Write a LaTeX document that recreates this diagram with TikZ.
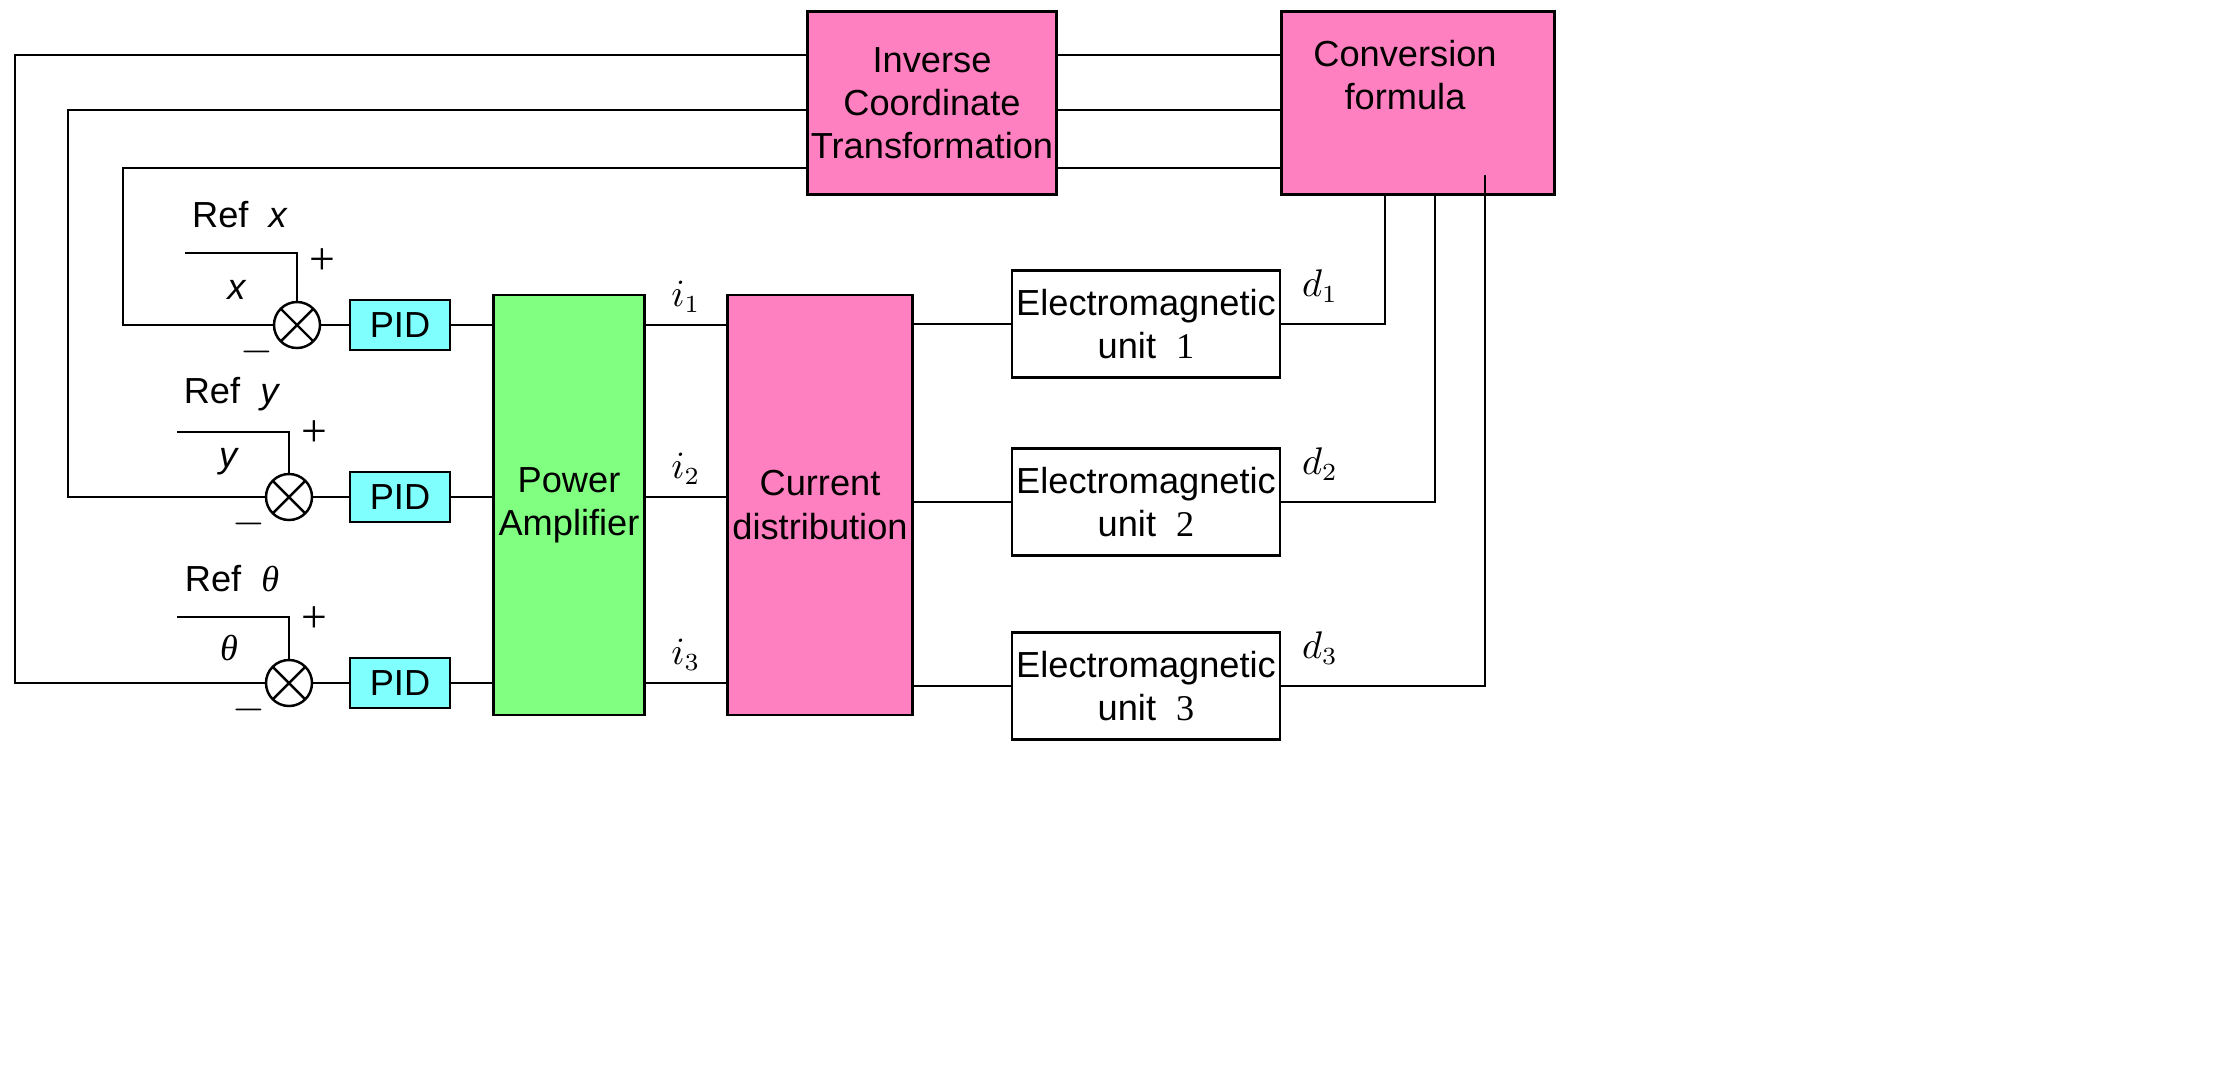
\documentclass[tikz,border=0pt]{standalone}
\usepackage{fontspec}
\setmainfont{Liberation Sans}
\newfontfamily\serf{Liberation Serif}
\begin{document}
\begin{tikzpicture}[x=0.01cm,y=-0.01cm,line width=0.7pt,
 blk/.style={draw,minimum width=#1,inner sep=1pt,align=center,font=\fontsize{10.3}{12.3}\selectfont},
 pink/.style={fill={rgb,255:red,255;green,128;blue,192}},
 sum/.style={draw,circle,minimum size=0.46cm,inner sep=0pt,path picture={\draw ([shift={(-45:0.23cm)}]path picture bounding box.center)--([shift={(135:0.23cm)}]path picture bounding box.center) ([shift={(45:0.23cm)}]path picture bounding box.center)--([shift={(225:0.23cm)}]path picture bounding box.center);}},
 lab/.style={font=\fontsize{10.3}{12}\selectfont},
 sub/.style={font=\fontsize{10.5}{12}\selectfont}]
\useasboundingbox (0,0) rectangle (2227,1072);
\node[blk=2.15cm,pink,minimum height=1.83cm] (ict) at (932,103) {Inverse\\Coordinate\\Transformation};
\node[blk=2.73cm,pink,minimum height=1.83cm] (cf) at (1418,103) {};
\node[lab,align=center] at (1405,75) {Conversion\\formula};
\node[blk=1.51cm,minimum height=4.2cm,fill={rgb,255:red,128;green,255;blue,128}] (pa) at (569,505) {Power\\Amplifier};
\node[blk=1.85cm,minimum height=4.2cm,pink] (cd) at (820,505) {Current\\distribution};
\foreach \i/\y/\s/\r/\n in {1/325/297/253/\textit{x},2/497/289/432/\textit{y},3/683/289/617/{\serf\itshape θ}}{
 \node[sum] (s\i) at (\s,\y) {};
 \node[blk=1cm,minimum height=0.5cm,fill={rgb,255:red,128;green,255;blue,255}] (p\i) at (400,\y) {PID};
 \draw (s\i)--(p\i);
 \draw (p\i)--(p\i-|pa.west);
 \draw (pa.east|-p\i)--(cd.west|-p\i) node[midway,above,sub]{$i_{\i}$};
 \coordinate (r\i) at (\s-112,\r);
 \draw (r\i)--(\s,\r)--(s\i.north);
 \node[lab] at (\s-57,\r-38) {Ref\ \ \n};
 \node[lab] at (\s-60,\y-35) {\n};
 \node[lab,font=\serf\fontsize{13}{13}\selectfont] at (\s+25,\y-63) {+};
 \node[lab,font=\serf\fontsize{13}{13}\selectfont] at (\s-40,\y+27) {$-$};
}
\foreach \i/\y/\xx in {1/324/1385,2/502/1435,3/686/1485}{
 \node[blk=2.68cm,minimum height=1.07cm] (e\i) at (1146,\y) {Electromagnetic\\unit\ \ {\serf\i}};
 \draw (cd.east|-e\i)--(e\i);
 \node[sub] at (1320,\y-38) {$d_{\i}$};
}
\draw (e1.east)--(1385,324)--(1385,195);
\draw (e2.east)--(1435,502)--(1435,195);
\draw (e3.east)--(1485,686)--(1485,175);
\foreach \y/\xl/\i in {55/15/3,110/68/2,168/123/1}{
 \draw (cf.west|-0,\y)--(ict.east|-0,\y);
 \draw (ict.west|-0,\y)--(\xl,\y)--(\xl,0|-s\i)--(s\i.west);
}
\end{tikzpicture}
\end{document}
